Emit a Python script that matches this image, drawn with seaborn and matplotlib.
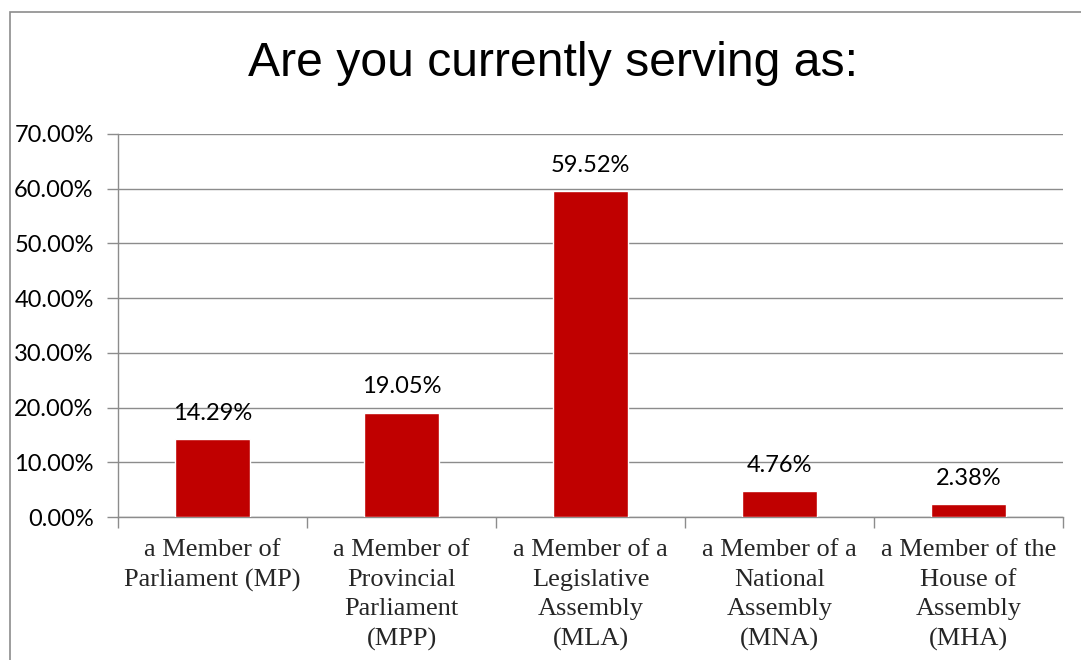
import matplotlib
matplotlib.use("Agg")
import matplotlib.pyplot as plt
import matplotlib.ticker as mticker
from matplotlib.patches import Rectangle
import seaborn as sns
import pandas as pd

categories = [
    "a Member of\nParliament (MP)",
    "a Member of\nProvincial\nParliament\n(MPP)",
    "a Member of a\nLegislative\nAssembly\n(MLA)",
    "a Member of a\nNational\nAssembly\n(MNA)",
    "a Member of the\nHouse of\nAssembly\n(MHA)",
]
shares = [0.1429, 0.1905, 0.5952, 0.0476, 0.0238]
value_labels = ["14.29%", "19.05%", "59.52%", "4.76%", "2.38%"]
y_ticks = [0.0, 0.1, 0.2, 0.3, 0.4, 0.5, 0.6, 0.7]

df = pd.DataFrame({"role": categories, "share": shares})

sns.set_theme(style="white")
W, H = 1081, 660
fig = plt.figure(figsize=(W / 100, H / 100), dpi=100)
ax = fig.add_axes([118 / W, 1 - 517 / H, (1063 - 118) / W, (517 - 134) / H])

sns.barplot(data=df, x="role", y="share", color="#C00000", width=0.4,
            saturation=1, ax=ax, zorder=3)

grid_c = "#8C8C8C"
ax.set_ylim(0, 0.70)
ax.set_xlim(-0.5, len(categories) - 0.5)
ax.set_yticks(y_ticks)
ax.yaxis.set_major_formatter(mticker.PercentFormatter(xmax=1, decimals=2))
ax.grid(axis="y", color=grid_c, linewidth=1.0, zorder=0)
ax.set_axisbelow(True)
ax.set_xlabel("")
ax.set_ylabel("")

for side in ("top", "right"):
    ax.spines[side].set_visible(False)
for side in ("left", "bottom"):
    ax.spines[side].set_color(grid_c)
    ax.spines[side].set_linewidth(1.0)

ax.tick_params(axis="y", which="major", length=8, width=1, color=grid_c,
               direction="out", left=True, pad=9.5, labelsize=17,
               labelcolor="black")
for lab in ax.get_yticklabels():
    lab.set_family("Lato")

ax.set_xticks(range(len(categories)))
ax.set_xticklabels(categories, family="Liberation Serif", fontsize=19,
                   linespacing=1.43)
ax.set_xticks([i - 0.5 for i in range(len(categories) + 1)], minor=True)
ax.tick_params(axis="x", which="major", length=0, pad=16)
ax.tick_params(axis="x", which="minor", length=8, width=1, color=grid_c,
               direction="out", bottom=True)

for i, (v, lab) in enumerate(zip(shares, value_labels)):
    ax.annotate(lab, (i, v), xytext=(0, 11), textcoords="offset points",
                ha="center", va="bottom", family="Lato", fontsize=17,
                color="black")

fig.text(553 / W, 1 - 64 / H, "Are you currently serving as:",
         ha="center", va="center", family="Liberation Sans", fontsize=34.7,
         color="black")

# chart-area frame
fig.patches.append(Rectangle((10 / W, -0.05), 1.2, 1 - 12 / H + 0.05,
                             transform=fig.transFigure, fill=False,
                             edgecolor="#8C8C8C", linewidth=1.2))

fig.savefig("out.png", dpi=100)
